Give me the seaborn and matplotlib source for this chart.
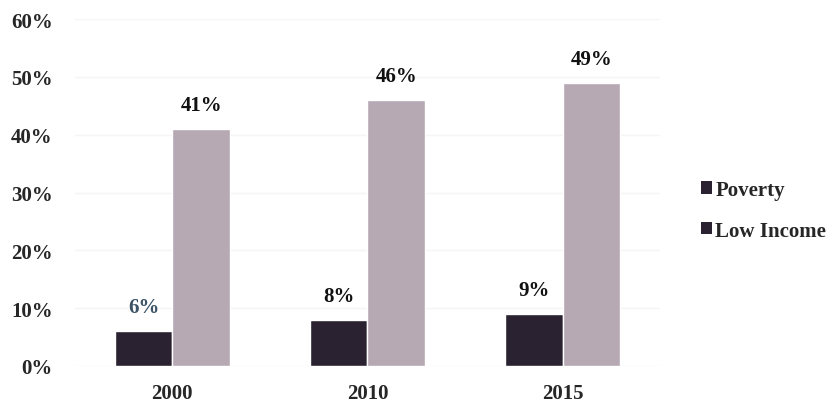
import matplotlib
matplotlib.use("Agg")
import matplotlib.pyplot as plt
import seaborn as sns
import pandas as pd
from matplotlib.patches import Patch

years = ["2000", "2010", "2015"]
series = ["Poverty", "Low Income"]
poverty = [6, 8, 9]
low_income = [41, 46, 49]
yticks = [0, 10, 20, 30, 40, 50, 60]

colors = {"Poverty": "#2a2230", "Low Income": "#b7a9b3"}
label_colors = {"Poverty": ["#3c5466", "#111111", "#111111"], "Low Income": ["#111111"] * 3}

df = pd.DataFrame({
    "Year": years * 2,
    "Series": ["Poverty"] * 3 + ["Low Income"] * 3,
    "Value": poverty + low_income,
})

sns.set_theme(style="white")
plt.rcParams["font.family"] = ["Liberation Serif", "DejaVu Serif"]
plt.rcParams["font.weight"] = "bold"

FS = 15

fig = plt.figure(figsize=(8.4, 4.1), dpi=100)
ax = fig.add_axes([0.089, 0.105, 0.697, 0.846])
sns.barplot(data=df, x="Year", y="Value", hue="Series", order=years, hue_order=series,
            palette=colors, width=0.59, saturation=1, ax=ax, legend=False, errorbar=None)

for i, s in enumerate(series):
    cont = ax.containers[i]
    for j, bar in enumerate(cont):
        v = bar.get_height()
        ax.annotate(f"{v:g}%", (bar.get_x() + bar.get_width() / 2, v),
                    xytext=(0, 10), textcoords="offset points", ha="center", va="bottom",
                    fontsize=FS, fontweight="bold", color=label_colors[s][j])

ax.set_ylim(0, 60)
ax.set_yticks(yticks)
ax.set_yticklabels([f"{t}%" for t in yticks])
ax.set_xlim(-0.5, 2.5)
ax.set_xlabel("")
ax.set_ylabel("")
ax.tick_params(axis="y", length=0, pad=16, labelsize=FS)
ax.tick_params(axis="x", length=0, pad=12, labelsize=FS)
for t in ax.get_xticklabels() + ax.get_yticklabels():
    t.set_fontweight("bold")
ax.yaxis.grid(True, color="#f6f4f4", linewidth=1)
ax.set_axisbelow(True)
for sp in ax.spines.values():
    sp.set_visible(False)

handles = [Patch(facecolor=colors[s], edgecolor="none", label=s) for s in series]
leg = fig.legend(handles=handles, loc="center left", bbox_to_anchor=(0.812, 0.485),
                 frameon=False, fontsize=15, handlelength=0.55, handleheight=0.55,
                 handletextpad=0.15, labelspacing=1.0)
leg.legend_handles[1].set_facecolor(colors["Poverty"])
for t in leg.get_texts():
    t.set_fontweight("bold")

fig.savefig("out.png", dpi=100)
